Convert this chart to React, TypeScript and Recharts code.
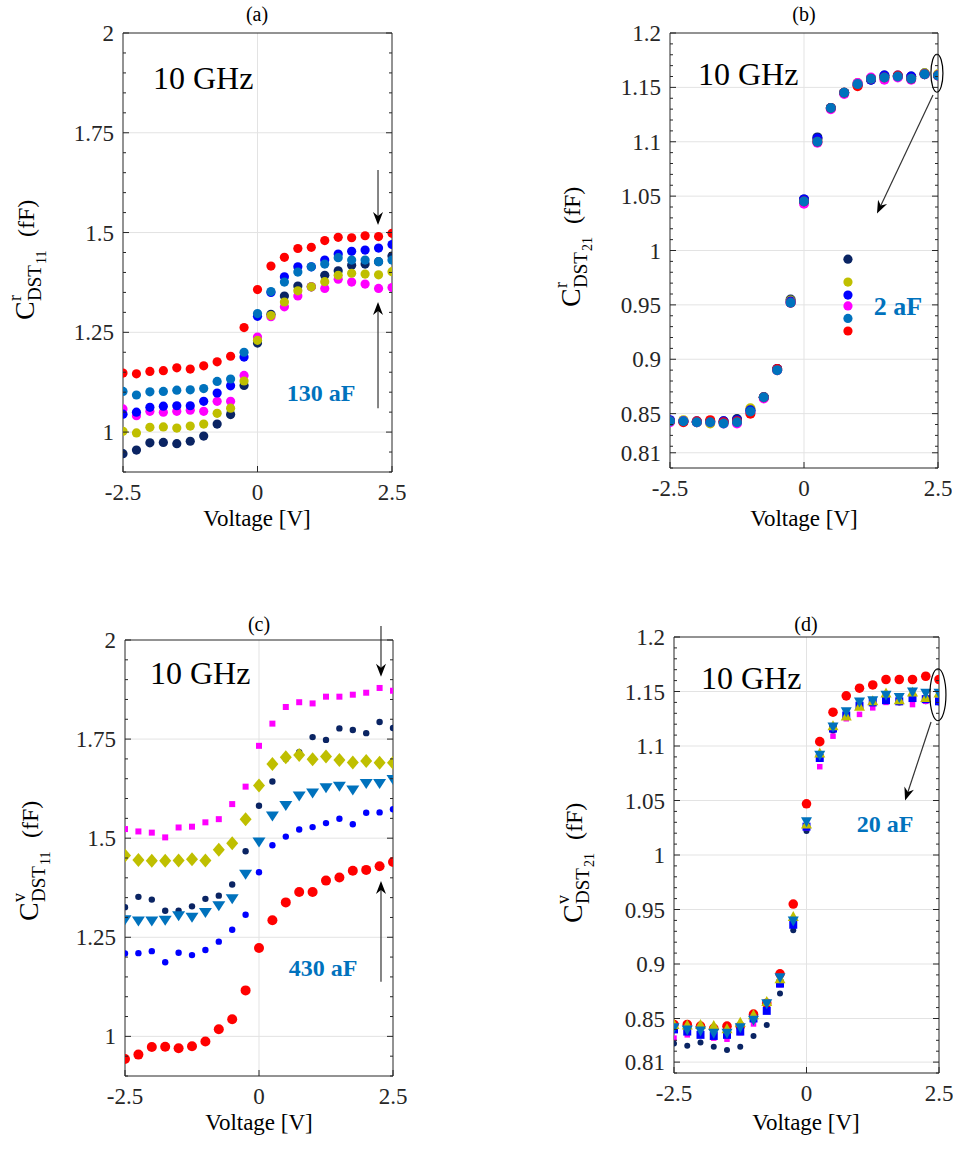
import React from "react";
import { ScatterChart, Scatter, XAxis, YAxis, ReferenceLine, ReferenceDot } from "recharts";

const SERIF = '"Liberation Serif", "Times New Roman", serif';
const AX = "#262626";
const GRID = "#e3e3e3";
const RED = "#ff0000";
const SKY = "#0072bd";
const BLUE = "#0000ff";
const MAG = "#ff00ff";
const OLIVE = "#bfbf00";
const NAVY = "#0a2463";

// bias voltage sweep, V
const voltage = [-2.5, -2.25, -2, -1.75, -1.5, -1.25, -1, -0.75, -0.5, -0.25, 0, 0.25, 0.5, 0.75, 1, 1.25, 1.5, 1.75, 2, 2.25, 2.5];
const xMajor = [-2.5, 0, 2.5];

// (a) C^r DST11
const aRed = [1.148, 1.146, 1.152, 1.154, 1.161, 1.158, 1.166, 1.176, 1.19, 1.262, 1.357, 1.416, 1.438, 1.46, 1.463, 1.48, 1.488, 1.487, 1.492, 1.49, 1.498];
const aSky = [1.102, 1.093, 1.101, 1.102, 1.105, 1.106, 1.109, 1.127, 1.133, 1.2, 1.297, 1.352, 1.376, 1.401, 1.414, 1.421, 1.437, 1.431, 1.431, 1.427, 1.431];
const aBlue = [1.045, 1.05, 1.062, 1.065, 1.066, 1.066, 1.077, 1.098, 1.116, 1.188, 1.29, 1.35, 1.389, 1.414, 1.414, 1.431, 1.446, 1.453, 1.456, 1.461, 1.47];
const aMag = [1.058, 1.041, 1.052, 1.05, 1.052, 1.055, 1.052, 1.077, 1.077, 1.142, 1.238, 1.289, 1.314, 1.341, 1.364, 1.36, 1.383, 1.376, 1.371, 1.36, 1.362];
const aOlive = [1.002, 0.998, 1.012, 1.013, 1.01, 1.015, 1.02, 1.047, 1.06, 1.128, 1.23, 1.292, 1.326, 1.354, 1.364, 1.377, 1.393, 1.398, 1.396, 1.394, 1.402];
const aNavy = [0.946, 0.955, 0.973, 0.974, 0.971, 0.977, 0.99, 1.02, 1.044, 1.117, 1.223, 1.295, 1.341, 1.366, 1.364, 1.393, 1.404, 1.418, 1.421, 1.427, 1.441];

// (b) C^r DST21
const bNavy = [0.843, 0.843, 0.842, 0.843, 0.843, 0.845, 0.853, 0.865, 0.891, 0.955, 1.047, 1.104, 1.131, 1.145, 1.153, 1.157, 1.161, 1.16, 1.16, 1.163, 1.161];
const bOlive = [0.843, 0.844, 0.842, 0.841, 0.842, 0.843, 0.855, 0.865, 0.89, 0.954, 1.046, 1.102, 1.131, 1.145, 1.154, 1.158, 1.159, 1.16, 1.159, 1.163, 1.162];
const bBlue = [0.844, 0.843, 0.843, 0.843, 0.843, 0.844, 0.853, 0.865, 0.891, 0.953, 1.047, 1.103, 1.131, 1.145, 1.152, 1.157, 1.161, 1.161, 1.16, 1.162, 1.161];
const bMag = [0.842, 0.843, 0.842, 0.842, 0.841, 0.841, 0.851, 0.864, 0.89, 0.952, 1.043, 1.099, 1.13, 1.144, 1.154, 1.159, 1.157, 1.159, 1.157, 1.162, 1.161];
const bRed = [0.843, 0.842, 0.843, 0.844, 0.842, 0.843, 0.85, 0.865, 0.891, 0.952, 1.045, 1.1, 1.131, 1.145, 1.151, 1.158, 1.159, 1.161, 1.158, 1.162, 1.161];
const bSky = [0.843, 0.843, 0.842, 0.842, 0.841, 0.842, 0.852, 0.865, 0.89, 0.952, 1.045, 1.1, 1.131, 1.145, 1.153, 1.158, 1.159, 1.16, 1.158, 1.162, 1.161];
// magnified spread of the 2.5 V points (drawn as a column at 0.82 V)
const spreadX = 0.82;
const spreadColors = [NAVY, OLIVE, BLUE, MAG, SKY, RED];
const spreadVals = [0.992, 0.971, 0.959, 0.949, 0.9375, 0.926];

// (c) C^v DST11
const cMag = [1.523, 1.517, 1.514, 1.502, 1.527, 1.529, 1.54, 1.548, 1.586, 1.63, 1.733, 1.789, 1.831, 1.843, 1.84, 1.857, 1.857, 1.862, 1.867, 1.879, 1.872];
const cNavy = [1.326, 1.352, 1.345, 1.317, 1.317, 1.328, 1.347, 1.355, 1.383, 1.467, 1.582, 1.643, 1.7, 1.717, 1.755, 1.748, 1.777, 1.773, 1.765, 1.793, 1.778];
const cOlive = [1.456, 1.445, 1.443, 1.443, 1.444, 1.447, 1.444, 1.471, 1.487, 1.548, 1.633, 1.687, 1.704, 1.71, 1.699, 1.706, 1.697, 1.691, 1.695, 1.69, 1.69];
const cSky = [1.293, 1.29, 1.29, 1.292, 1.303, 1.299, 1.311, 1.328, 1.346, 1.408, 1.489, 1.555, 1.581, 1.605, 1.613, 1.626, 1.63, 1.62, 1.637, 1.637, 1.647];
const cBlue = [1.209, 1.21, 1.215, 1.187, 1.211, 1.205, 1.218, 1.239, 1.269, 1.307, 1.414, 1.482, 1.504, 1.522, 1.528, 1.538, 1.549, 1.535, 1.564, 1.565, 1.573];
const cRed = [0.943, 0.954, 0.973, 0.974, 0.97, 0.975, 0.987, 1.018, 1.043, 1.116, 1.223, 1.293, 1.338, 1.364, 1.364, 1.393, 1.401, 1.418, 1.42, 1.429, 1.44];

// (d) C^v DST21
const dRed = [0.8445, 0.8445, 0.843, 0.841, 0.843, 0.843, 0.854, 0.864, 0.891, 0.955, 1.047, 1.104, 1.131, 1.146, 1.153, 1.156, 1.161, 1.161, 1.161, 1.164, 1.161];
const dOlive = [0.845, 0.8445, 0.845, 0.844, 0.841, 0.847, 0.854, 0.866, 0.887, 0.944, 1.029, 1.094, 1.119, 1.128, 1.137, 1.142, 1.149, 1.143, 1.15, 1.145, 1.149];
const dSky = [0.841, 0.839, 0.838, 0.836, 0.836, 0.841, 0.848, 0.863, 0.887, 0.939, 1.03, 1.091, 1.117, 1.131, 1.14, 1.141, 1.146, 1.144, 1.149, 1.148, 1.148];
const dBlue = [0.84, 0.838, 0.835, 0.834, 0.835, 0.838, 0.85, 0.857, 0.882, 0.936, 1.026, 1.089, 1.116, 1.128, 1.137, 1.14, 1.142, 1.141, 1.144, 1.143, 1.141];
const dMag = [0.832, 0.835, 0.837, 0.832, 0.831, 0.837, 0.845, 0.861, 0.881, 0.936, 1.025, 1.081, 1.109, 1.125, 1.129, 1.135, 1.14, 1.14, 1.138, 1.141, 1.141];
const dNavy = [0.827, 0.825, 0.828, 0.824, 0.821, 0.824, 0.834, 0.844, 0.873, 0.931, 1.022, 1.088, 1.114, 1.127, 1.136, 1.139, 1.141, 1.14, 1.142, 1.141, 1.14];

// y tick labels
const yMajorTop = [1, 1.25, 1.5, 1.75, 2];
const yMajorB = [0.814, 0.85, 0.9, 0.95, 1, 1.05, 1.1, 1.15, 1.2];
const yMajorD = [0.81, 0.85, 0.9, 0.95, 1, 1.05, 1.1, 1.15, 1.2];

const range = (lo: number, hi: number, step: number) => {
  const out: number[] = [];
  for (let v = lo; v <= hi + 1e-9; v += step) out.push(Math.round(v * 1000) / 1000);
  return out;
};

const pts = (ys: number[]) => voltage.map((x, i) => ({ x, y: ys[i] }));

// marker shapes
const circle = (r: number, c: string) => (p: any) => <circle cx={p.cx} cy={p.cy} r={r} fill={c} />;
const square = (s: number, c: string) => (p: any) => <rect x={p.cx - s / 2} y={p.cy - s / 2} width={s} height={s} fill={c} />;
const diamond = (w: number, h: number, c: string) => (p: any) => (
  <polygon points={`${p.cx},${p.cy - h} ${p.cx + w},${p.cy} ${p.cx},${p.cy + h} ${p.cx - w},${p.cy}`} fill={c} />
);
const triDown = (w: number, h: number, c: string) => (p: any) => (
  <polygon points={`${p.cx - w / 2},${p.cy - h / 2} ${p.cx + w / 2},${p.cy - h / 2} ${p.cx},${p.cy + h / 2}`} fill={c} />
);
const triUp = (w: number, h: number, c: string) => (p: any) => (
  <polygon points={`${p.cx - w / 2},${p.cy + h / 2} ${p.cx + w / 2},${p.cy + h / 2} ${p.cx},${p.cy - h / 2}`} fill={c} />
);

function arrowShape(p: any) {
  const { x1, y1, x2, y2 } = p;
  const dx = x2 - x1;
  const dy = y2 - y1;
  const len = Math.hypot(dx, dy) || 1;
  const ux = dx / len;
  const uy = dy / len;
  const nx = -uy;
  const ny = ux;
  const hl = 13;
  const hw = 5;
  const notch = 4;
  const bx = x2 - ux * hl;
  const by = y2 - uy * hl;
  const mx = x2 - ux * (hl - notch);
  const my = y2 - uy * (hl - notch);
  return (
    <g>
      <line x1={x1} y1={y1} x2={mx} y2={my} stroke="#333" strokeWidth={1.2} />
      <polygon points={`${x2},${y2} ${bx + nx * hw},${by + ny * hw} ${mx},${my} ${bx - nx * hw},${by - ny * hw}`} fill="#000" />
    </g>
  );
}

const ellipse = (rx: number, ry: number) => (p: any) => (
  <ellipse cx={p.cx} cy={p.cy} rx={rx} ry={ry} fill="none" stroke="#000" strokeWidth={1.2} />
);

type Series = { key: string; data: { x: number; y: number }[]; shape: (p: any) => React.ReactElement };

type PanelProps = {
  plotL: number;
  plotT: number;
  plotW: number;
  plotH: number;
  yDomain: [number, number];
  yMajor: number[];
  yMinorStep: number;
  series: Series[];
  extra?: React.ReactNode;
};

const tickText = { fontFamily: SERIF, fontSize: 23 };

function Panel({ plotL, plotT, plotW, plotH, yDomain, yMajor, yMinorStep, series, extra }: PanelProps) {
  const ML = 80;
  const MT = 14;
  const MR = 14;
  const MB = 44;
  const isMajor = (v: number) => yMajor.some((m) => Math.abs(m - v) < 1e-6);
  const minor = range(yDomain[0], yDomain[1], yMinorStep).filter(
    (v) => !yMajor.some((m) => Math.abs(m - v) < yMinorStep * 0.6)
  );
  const yTicks = [...yMajor, ...minor].sort((a, b) => a - b);
  const label = (v: number) => String(parseFloat(v.toFixed(2)));
  const gridY = yMajor.filter((v) => v > yDomain[0] && v < yDomain[1]);

  const leftTick = (p: any) => {
    const v = p.payload.value;
    const maj = isMajor(v);
    return (
      <g>
        <line x1={p.x} y1={p.y} x2={p.x + (maj ? 6 : 3)} y2={p.y} stroke={AX} />
        {maj && (
          <text x={p.x - 9} y={p.y + 8} textAnchor="end" fill={AX} style={tickText}>
            {label(v)}
          </text>
        )}
      </g>
    );
  };
  const rightTick = (p: any) => {
    const maj = isMajor(p.payload.value);
    return <line x1={p.x} y1={p.y} x2={p.x - (maj ? 6 : 3)} y2={p.y} stroke={AX} />;
  };
  const bottomTick = (p: any) => (
    <g>
      <line x1={p.x} y1={p.y} x2={p.x} y2={p.y - 6} stroke={AX} />
      <text x={p.x} y={p.y + 28} textAnchor="middle" fill={AX} style={tickText}>
        {String(p.payload.value)}
      </text>
    </g>
  );
  const topTick = (p: any) => <line x1={p.x} y1={p.y} x2={p.x} y2={p.y + 6} stroke={AX} />;

  // axes are 1px thick bands so that Recharts still draws them
  return (
    <div style={{ position: "absolute", left: plotL - ML, top: plotT - MT }}>
      <ScatterChart width={plotW + ML + MR} height={plotH + MT + MB} margin={{ top: MT - 1, right: MR - 1, bottom: MB - 1, left: ML - 1 }}>
        <XAxis dataKey="x" type="number" domain={[-2.5, 2.5]} allowDataOverflow ticks={xMajor} interval={0}
          height={1} tickSize={0} tickMargin={0} tickLine={false} tick={bottomTick} axisLine={{ stroke: AX }} />
        <XAxis xAxisId="top" orientation="top" type="number" domain={[-2.5, 2.5]} allowDataOverflow ticks={xMajor} interval={0}
          height={1} tickSize={0} tickMargin={0} tickLine={false} tick={topTick} axisLine={{ stroke: AX }} />
        <YAxis dataKey="y" type="number" domain={yDomain} allowDataOverflow ticks={yTicks} interval={0}
          width={1} tickSize={0} tickMargin={0} tickLine={false} tick={leftTick} axisLine={{ stroke: AX }} />
        <YAxis yAxisId="right" orientation="right" type="number" domain={yDomain} allowDataOverflow ticks={yTicks} interval={0}
          width={1} tickSize={0} tickMargin={0} tickLine={false} tick={rightTick} axisLine={{ stroke: AX }} />
        {gridY.map((v) => (
          <ReferenceLine key={"gy" + v} y={v} stroke={GRID} />
        ))}
        <ReferenceLine x={0} stroke={GRID} />
        {series.map((s) => (
          <Scatter key={s.key} data={s.data} shape={s.shape} isAnimationActive={false} />
        ))}
        {extra}
      </ScatterChart>
    </div>
  );
}

function YTitle({ x, y, sup, sub }: { x: number; y: number; sup: string; sub: string }) {
  return (
    <text transform={`translate(${x},${y}) rotate(-90)`} fontFamily={SERIF} fill="#000">
      <tspan x={0} y={0} fontSize={28}>C</tspan>
      <tspan x={19} y={-13} fontSize={18}>{sup}</tspan>
      <tspan x={19} y={7} fontSize={19}>DST</tspan>
      <tspan x={56} y={12} fontSize={14}>{sub}</tspan>
      <tspan x={83} y={0} fontSize={24}>(fF)</tspan>
    </text>
  );
}

export default function App() {
  const seriesA: Series[] = [
    { key: "navy", data: pts(aNavy), shape: circle(4.6, NAVY) },
    { key: "mag", data: pts(aMag), shape: circle(4.6, MAG) },
    { key: "blue", data: pts(aBlue), shape: circle(4.6, BLUE) },
    { key: "sky", data: pts(aSky), shape: circle(4.6, SKY) },
    { key: "olive", data: pts(aOlive), shape: circle(4.6, OLIVE) },
    { key: "red", data: pts(aRed), shape: circle(4.6, RED) },
  ];
  const seriesB: Series[] = [
    { key: "navy", data: pts(bNavy), shape: circle(5, NAVY) },
    { key: "olive", data: pts(bOlive), shape: circle(5, OLIVE) },
    { key: "blue", data: pts(bBlue), shape: circle(5, BLUE) },
    { key: "mag", data: pts(bMag), shape: circle(5, MAG) },
    { key: "red", data: pts(bRed), shape: circle(5, RED) },
    { key: "sky", data: pts(bSky), shape: circle(5, SKY) },
    ...spreadVals.map((v, i) => ({ key: "spread" + i, data: [{ x: spreadX, y: v }], shape: circle(4.6, spreadColors[i]) })),
  ];
  const seriesC: Series[] = [
    { key: "navy", data: pts(cNavy), shape: circle(3.2, NAVY) },
    { key: "mag", data: pts(cMag), shape: square(6, MAG) },
    { key: "blue", data: pts(cBlue), shape: circle(3.2, BLUE) },
    { key: "red", data: pts(cRed), shape: circle(5, RED) },
    { key: "sky", data: pts(cSky), shape: triDown(13, 10, SKY) },
    { key: "olive", data: pts(cOlive), shape: diamond(6, 7, OLIVE) },
  ];
  const seriesD: Series[] = [
    { key: "navy", data: pts(dNavy), shape: circle(3, NAVY) },
    { key: "mag", data: pts(dMag), shape: square(5.5, MAG) },
    { key: "red", data: pts(dRed), shape: circle(4.8, RED) },
    { key: "blue", data: pts(dBlue), shape: square(8, BLUE) },
    { key: "olive", data: pts(dOlive), shape: triUp(11, 10, OLIVE) },
    { key: "sky", data: pts(dSky), shape: triDown(11, 10, SKY) },
  ];

  const minorTop = 0.05;
  const minorBot = 0.01;

  return (
    <div style={{ position: "absolute", left: 0, top: 0, width: 957, height: 1149, background: "#fff" }}>
      <Panel plotL={123} plotT={33} plotW={269} plotH={439} yDomain={[0.9, 2]} yMajor={yMajorTop} yMinorStep={minorTop}
        series={seriesA}
        extra={[
          <ReferenceLine key="a1" segment={[{ x: 2.24, y: 1.657 }, { x: 2.24, y: 1.519 }]} ifOverflow="visible" shape={arrowShape} />,
          <ReferenceLine key="a2" segment={[{ x: 2.24, y: 1.06 }, { x: 2.24, y: 1.326 }]} ifOverflow="visible" shape={arrowShape} />,
        ]}
      />
      <Panel plotL={670} plotT={33} plotW={268} plotH={435} yDomain={[0.8, 1.2]} yMajor={yMajorB} yMinorStep={minorBot}
        series={seriesB}
        extra={[
          <ReferenceDot key="b0" x={2.48} y={1.163} ifOverflow="visible" shape={ellipse(6, 19)} />,
          <ReferenceLine key="b1" segment={[{ x: 2.407, y: 1.143 }, { x: 1.362, y: 1.034 }]} ifOverflow="visible" shape={arrowShape} />,
        ]}
      />
      <Panel plotL={125} plotT={640} plotW={268} plotH={436} yDomain={[0.9, 2]} yMajor={yMajorTop} yMinorStep={minorTop}
        series={seriesC}
        extra={[
          <ReferenceLine key="c1" segment={[{ x: 2.276, y: 2.055 }, { x: 2.276, y: 1.907 }]} ifOverflow="visible" shape={arrowShape} />,
          <ReferenceLine key="c2" segment={[{ x: 2.276, y: 1.138 }, { x: 2.276, y: 1.392 }]} ifOverflow="visible" shape={arrowShape} />,
        ]}
      />
      <Panel plotL={674} plotT={637} plotW={265} plotH={436} yDomain={[0.8, 1.2]} yMajor={yMajorD} yMinorStep={minorBot}
        series={seriesD}
        extra={[
          <ReferenceDot key="d0" x={2.48} y={1.147} ifOverflow="visible" shape={ellipse(8, 26)} />,
          <ReferenceLine key="d1" segment={[{ x: 2.35, y: 1.122 }, { x: 1.86, y: 1.05 }]} ifOverflow="visible" shape={arrowShape} />,
        ]}
      />

      <svg width={957} height={1149} style={{ position: "absolute", left: 0, top: 0, pointerEvents: "none" }}>
        <g fontFamily={SERIF} fill="#000">
          <text x={257} y={21} fontSize={20} textAnchor="middle">(a)</text>
          <text x={804} y={21} fontSize={20} textAnchor="middle">(b)</text>
          <text x={259} y={631} fontSize={20} textAnchor="middle">(c)</text>
          <text x={806} y={631} fontSize={20} textAnchor="middle">(d)</text>

          <text x={257} y={526} fontSize={23} textAnchor="middle">Voltage [V]</text>
          <text x={804} y={526} fontSize={23} textAnchor="middle">Voltage [V]</text>
          <text x={259} y={1130} fontSize={23} textAnchor="middle">Voltage [V]</text>
          <text x={806} y={1130} fontSize={23} textAnchor="middle">Voltage [V]</text>

          <text x={153} y={89} fontSize={32}>10 GHz</text>
          <text x={698} y={85} fontSize={32}>10 GHz</text>
          <text x={150} y={684} fontSize={32}>10 GHz</text>
          <text x={701} y={689} fontSize={32}>10 GHz</text>
        </g>
        <g fontFamily={SERIF} fill={SKY} fontWeight="bold" textAnchor="middle">
          <text x={321} y={401} fontSize={24}>130 aF</text>
          <text x={323} y={976} fontSize={24}>430 aF</text>
          <text x={898} y={315} fontSize={26}>2 aF</text>
          <text x={885} y={832} fontSize={24}>20 aF</text>
        </g>
        <YTitle x={34} y={320} sup="r" sub="11" />
        <YTitle x={580} y={307} sup="r" sub="21" />
        <YTitle x={38} y={921} sup="v" sub="11" />
        <YTitle x={582} y={923} sup="v" sub="21" />
      </svg>
    </div>
  );
}
